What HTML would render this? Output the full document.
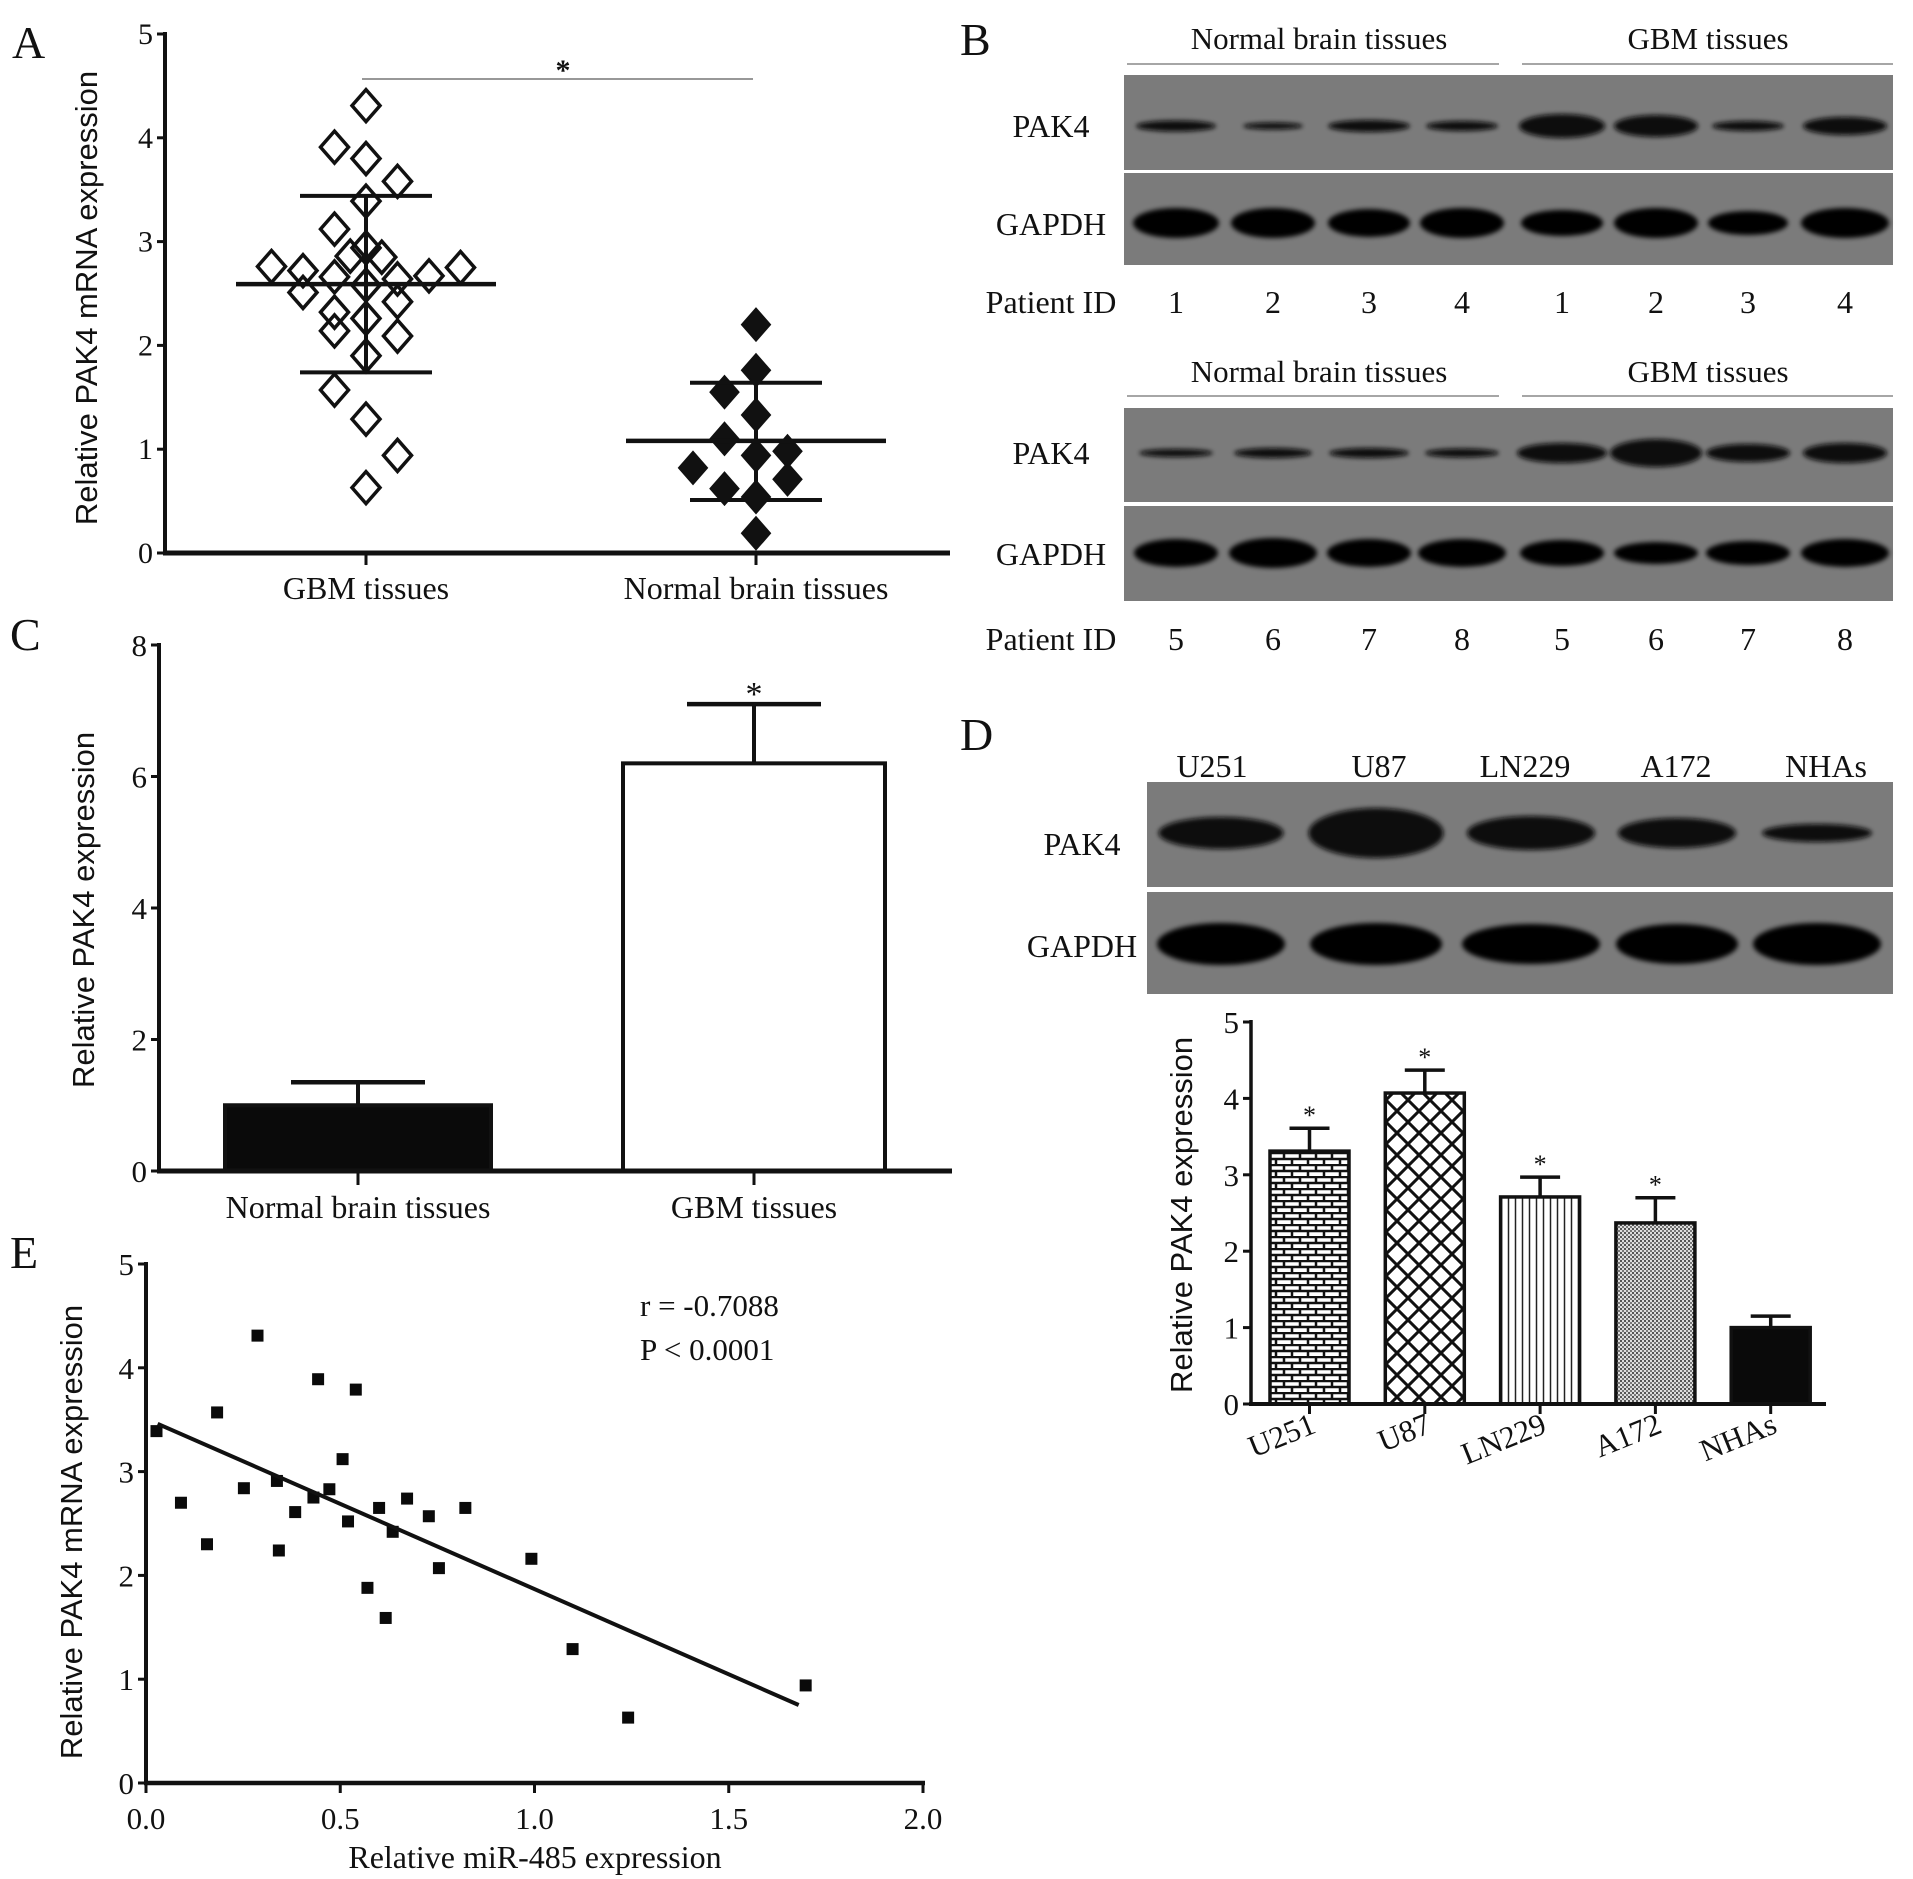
<!DOCTYPE html>
<html><head><meta charset="utf-8"><style>
html,body{margin:0;padding:0;background:#fff}
svg{display:block}
text{font-family:"Liberation Serif",serif;fill:#111}
.sans{font-family:"Liberation Sans",sans-serif}
</style></head><body>
<svg id="fig" width="1913" height="1879" viewBox="0 0 1913 1879" xmlns="http://www.w3.org/2000/svg">
<defs>
<filter id="blur" x="-30%" y="-60%" width="160%" height="220%"><feGaussianBlur stdDeviation="2.5"/></filter>
<pattern id="brick" width="16" height="12" patternUnits="userSpaceOnUse"><rect width="16" height="12" fill="#fff"/><path d="M0 1H16M0 7H16M4 1V7M12 7V12" stroke="#111" stroke-width="2.5"/></pattern>
<pattern id="cross" width="22" height="22" patternUnits="userSpaceOnUse"><rect width="22" height="22" fill="#fff"/><path d="M0 0L22 22M22 0L0 22" stroke="#111" stroke-width="3"/></pattern>
<pattern id="vlines" width="7" height="10" patternUnits="userSpaceOnUse"><rect width="7" height="10" fill="#fff"/><path d="M3.5 0V10" stroke="#222" stroke-width="1.5"/></pattern>
<pattern id="dots" width="4" height="4" patternUnits="userSpaceOnUse"><rect width="4" height="4" fill="#ddd"/><rect width="2" height="2" fill="#555"/><rect x="2" y="2" width="2" height="2" fill="#777"/></pattern>
</defs>
<g id="A"></g>
<g id="B"></g>
<g id="C"></g>
<g id="D"></g>
<g id="E"></g>
</svg>
<script>
// ---------- Panel A data ----------
const aCategories = ["GBM tissues", "Normal brain tissues"];
const aGbmValues = [4.31,3.91,3.80,3.58,3.39,3.12,2.94,2.86,2.85,2.76,2.72,2.75,2.66,2.64,2.67,2.58,2.51,2.42,2.32,2.26,2.14,2.09,1.90,1.57,1.29,0.94,0.63];
const aGbmColumn = [0,-1,0,1,0,-1,0,-0.5,0.5,-3,-2,3,-1,1,2,0,-2,1,-1,0,-1,1,0,-1,0,1,0];
const aNormalValues = [2.20,1.76,1.55,1.33,1.10,0.98,0.94,0.82,0.71,0.62,0.54,0.19];
const aNormalColumn = [0,0,-1,0,-1,1,0,-2,1,-1,0,0];
const aMeans = [2.59, 1.08];
const aSdHigh = [3.44, 1.64];
const aSdLow = [1.74, 0.51];
const aTicks = [0,1,2,3,4,5];
// ---------- Panel C data ----------
const cCategories = ["Normal brain tissues", "GBM tissues"];
const cValues = [1.0, 6.2];
const cErrors = [1.35, 7.1];
const cTicks = [0,2,4,6,8];
// ---------- Panel D data ----------
const dCategories = ["U251","U87","LN229","A172","NHAs"];
const dValues = [3.31, 4.07, 2.71, 2.37, 1.0];
const dErrors = [3.61, 4.37, 2.97, 2.70, 1.15];
const dSig = [true,true,true,true,false];
const dTicks = [0,1,2,3,4,5];
// ---------- Panel E data ----------
const eX = [0.027,0.09,0.157,0.183,0.252,0.287,0.337,0.342,0.384,0.431,0.443,0.472,0.506,0.52,0.54,0.57,0.60,0.617,0.635,0.672,0.728,0.754,0.822,0.992,1.098,1.241,1.698];
const eY = [3.39,2.70,2.30,3.57,2.84,4.31,2.91,2.24,2.61,2.75,3.89,2.83,3.12,2.52,3.79,1.88,2.65,1.59,2.42,2.74,2.57,2.07,2.65,2.16,1.29,0.63,0.94];
const eFit = [3.51, -1.642];
const eFitRange = [0.03, 1.68];
const eXTicks = ["0.0","0.5","1.0","1.5","2.0"];
const eYTicks = [0,1,2,3,4,5];

const NS="http://www.w3.org/2000/svg";
function el(parent, tag, attrs, txt){const e=document.createElementNS(NS,tag);for(const k in attrs)e.setAttribute(k,attrs[k]);if(txt!==undefined)e.textContent=txt;parent.appendChild(e);return e;}
function line(p,x1,y1,x2,y2,w,c){return el(p,'line',{x1,y1,x2,y2,stroke:c||'#111','stroke-width':w||4});}

// ===== Panel A =====
(function(){
const g=document.getElementById('A');
const x0=165,y0=553,pu=103.8,xr=950;
const y=v=>y0-v*pu;
const cx=[366,756], step=31.5;
let t=el(g,'text',{x:12,y:58,'font-size':46});t.textContent='A';

line(g,x0,y(5)-2,x0,y0+2,4);line(g,x0-2,y0,xr,y0,5);
aTicks.forEach(v=>{line(g,x0-8,y(v),x0,y(v),3);
 const tt=el(g,'text',{x:x0-12,y:y(v)+10,'font-size':30,'text-anchor':'end'},v);
 });
aCategories.forEach((c,i)=>{line(g,cx[i],y0,cx[i],y0+12,3);
 const tt=el(g,'text',{x:cx[i],y:599,'font-size':32,'text-anchor':'middle'},c);
 });
const yt=el(g,'text',{class:'sans',x:0,y:0,'font-size':31,'text-anchor':'middle',transform:'translate(97,298) rotate(-90)'},'Relative PAK4 mRNA expression');

line(g,362,79,753,79,1.5,'#777');
el(g,'text',{x:563,y:80,'font-size':30,'text-anchor':'middle','font-weight':'bold'},'*');
function diamond(v,col,x,filled){const X=x+col*step,Y=y(v);
 const d=el(g,'path',{d:`M${X} ${Y-16}L${X+14} ${Y}L${X} ${Y+16}L${X-14} ${Y}Z`,fill:filled?'#111':'none',stroke:'#111','stroke-width':filled?2:3.5});
 }
aGbmValues.forEach((v,i)=>diamond(v,aGbmColumn[i],cx[0],false));
aNormalValues.forEach((v,i)=>diamond(v,aNormalColumn[i],cx[1],true));
[0,1].forEach(i=>{line(g,cx[i],y(aSdHigh[i]),cx[i],y(aSdLow[i]),4);
 const m=line(g,cx[i]-130,y(aMeans[i]),cx[i]+130,y(aMeans[i]),4.5);
 
 line(g,cx[i]-66,y(aSdHigh[i]),cx[i]+66,y(aSdHigh[i]),4);
 line(g,cx[i]-66,y(aSdLow[i]),cx[i]+66,y(aSdLow[i]),4);});
})();

// ===== Panel B (western blots) =====
(function(){
const g=document.getElementById('B');
const lanes=[1176,1273,1369,1462,1562,1656,1748,1845];
let t=el(g,'text',{x:960,y:55,'font-size':46},'B');

const blocks=[
 {hy:39,ly:64,pak:[75,170],gap:[173,265],pid:302,ids:['1','2','3','4','1','2','3','4'],
  pk:[[80,11],[60,7],[82,12],[72,10],[86,24],[84,22],[72,10],[84,18]],gp:[[86,30],[84,30],[82,28],[84,30],[82,26],[84,30],[80,24],[88,30]],pkY:126,gpY:223},
 {hy:372,ly:396,pak:[408,502],gap:[506,601],pid:639,ids:['5','6','7','8','5','6','7','8'],
  pk:[[74,8],[78,10],[80,10],[74,9],[90,20],[92,28],[84,18],[84,20]],gp:[[84,28],[88,30],[84,28],[88,28],[84,26],[84,22],[84,24],[88,28]],pkY:453,gpY:553}];
blocks.forEach((b,bi)=>{
 let h=el(g,'text',{x:1319,y:b.hy+10,'font-size':31,'text-anchor':'middle'},'Normal brain tissues');
 
 h=el(g,'text',{x:1708,y:b.hy+10,'font-size':31,'text-anchor':'middle'},'GBM tissues');
 
 line(g,1127,b.ly,1499,b.ly,1.5,'#888');line(g,1522,b.ly,1893,b.ly,1.5,'#888');
 let r=el(g,'rect',{x:1124,y:b.pak[0],width:769,height:b.pak[1]-b.pak[0],fill:'#7b7b7b'});
 
 r=el(g,'rect',{x:1124,y:b.gap[0],width:769,height:b.gap[1]-b.gap[0],fill:'#7b7b7b'});
 
 el(g,'text',{x:1051,y:b.pkY+11,'font-size':32,'text-anchor':'middle'},'PAK4');
 el(g,'text',{x:1051,y:b.gpY+12,'font-size':32,'text-anchor':'middle'},'GAPDH');
 el(g,'text',{x:1051,y:b.pid+11,'font-size':32,'text-anchor':'middle'},'Patient ID');
 lanes.forEach((x,i)=>{
  const e1=el(g,'ellipse',{cx:x,cy:b.pkY,rx:b.pk[i][0]/2,ry:b.pk[i][1]/2,fill:'#080808',filter:'url(#blur)'});
  
  const e2=el(g,'ellipse',{cx:x,cy:b.gpY,rx:b.gp[i][0]/2,ry:b.gp[i][1]/2,fill:'#060606',filter:'url(#blur)'});
  
  el(g,'text',{x:x,y:b.pid+11,'font-size':32,'text-anchor':'middle'},b.ids[i]);
 });
});
})();

// ===== Panel C =====
(function(){
const g=document.getElementById('C');
const x0=159,y0=1171,pu=65.75,xr=952;
const y=v=>y0-v*pu;
const bx=[[225,491],[623,885]], cxs=[358,754];
let t=el(g,'text',{x:10,y:650,'font-size':46},'C');

cValues.forEach((v,i)=>{
 const cx=(bx[i][0]+bx[i][1])/2;
 line(g,cx,y(v),cx,y(cErrors[i]),4);
 line(g,cx-67,y(cErrors[i]),cx+67,y(cErrors[i]),4.5);
 const r=el(g,'rect',{x:bx[i][0],y:y(v),width:bx[i][1]-bx[i][0],height:v*pu,fill:i===0?'#0a0a0a':'#fff',stroke:'#111','stroke-width':4});
 
});
el(g,'text',{x:754,y:705,'font-size':34,'text-anchor':'middle'},'*');
line(g,x0,y(8)-2,x0,y0+2,4);line(g,x0-2,y0,xr,y0,5);
cTicks.forEach(v=>{line(g,x0-8,y(v),x0,y(v),3);el(g,'text',{x:x0-12,y:y(v)+11,'font-size':31,'text-anchor':'end'},v);});
cCategories.forEach((c,i)=>{line(g,cxs[i],y0,cxs[i],y0+14,3);
 const tt=el(g,'text',{x:cxs[i],y:1218,'font-size':32,'text-anchor':'middle'},c);
 });
const yt=el(g,'text',{class:'sans',x:0,y:0,'font-size':31,'text-anchor':'middle',transform:'translate(94,910) rotate(-90)'},'Relative PAK4 expression');

})();

// ===== Panel D =====
(function(){
const g=document.getElementById('D');
let t=el(g,'text',{x:960,y:750,'font-size':46},'D');

const lblX=[1212,1379,1525,1676,1826], bandX=[1221,1376,1531,1677,1817];
const pk=[[125,32],[135,50],[128,34],[118,30],[110,18]], gp=[[128,42],[132,42],[138,40],[122,40],[128,42]];
let r=el(g,'rect',{x:1147,y:782,width:746,height:105,fill:'#7b7b7b'});

r=el(g,'rect',{x:1147,y:892,width:746,height:102,fill:'#7b7b7b'});

el(g,'text',{x:1082,y:855,'font-size':32,'text-anchor':'middle'},'PAK4');
el(g,'text',{x:1082,y:957,'font-size':32,'text-anchor':'middle'},'GAPDH');
dCategories.forEach((c,i)=>{
 const tt=el(g,'text',{x:lblX[i],y:777,'font-size':32,'text-anchor':'middle'},c);
 
 const e1=el(g,'ellipse',{cx:bandX[i],cy:833,rx:pk[i][0]/2,ry:pk[i][1]/2,fill:'#080808',filter:'url(#blur)'});
 
 const e2=el(g,'ellipse',{cx:bandX[i],cy:944,rx:gp[i][0]/2,ry:gp[i][1]/2,fill:'#060606',filter:'url(#blur)'});
 
});
const x0=1251,y0=1404,pu=76.4,xr=1826;
const y=v=>y0-v*pu;
const fills=['url(#brick)','url(#cross)','url(#vlines)','url(#dots)','#0a0a0a'];
const bw=79, first=1270, step=115.3;
dValues.forEach((v,i)=>{
 const bx=first+i*step, cx=bx+bw/2;
 line(g,cx,y(v),cx,y(dErrors[i]),3.5);
 line(g,cx-20,y(dErrors[i]),cx+20,y(dErrors[i]),3.5);
 const b=el(g,'rect',{x:bx,y:y(v),width:bw,height:v*pu,fill:fills[i],stroke:'#111','stroke-width':3.5});
 
 if(dSig[i]) el(g,'text',{x:cx,y:y(dErrors[i])-4,'font-size':26,'text-anchor':'middle'},'*');
 line(g,cx,y0,cx,y0+10,3);
 const tl=el(g,'text',{x:cx+8,y:y0+28,'font-size':31,'text-anchor':'end',transform:`rotate(-22 ${cx+8} ${y0+28})`},dCategories[i]);
 
});
line(g,x0,y(5)-2,x0,y0+2,3.5);line(g,x0-2,y0,xr,y0,4);
dTicks.forEach(v=>{line(g,x0-8,y(v),x0,y(v),3);el(g,'text',{x:x0-12,y:y(v)+11,'font-size':31,'text-anchor':'end'},v);});
const yt=el(g,'text',{class:'sans',x:0,y:0,'font-size':31,'text-anchor':'middle',transform:'translate(1192,1215) rotate(-90)'},'Relative PAK4 expression');

})();

// ===== Panel E =====
(function(){
const g=document.getElementById('E');
const x0=146,y0=1783,pu=103.8,xu=388.5,xr=923;
const X=v=>x0+v*xu, Y=v=>y0-v*pu;
let t=el(g,'text',{x:10,y:1268,'font-size':46},'E');

line(g,x0,Y(5)-2,x0,y0+2,4);line(g,x0-2,y0,xr+2,y0,4.5);
eYTicks.forEach(v=>{line(g,x0-8,Y(v),x0,Y(v),3);el(g,'text',{x:x0-12,y:Y(v)+11,'font-size':31,'text-anchor':'end'},v);});
eXTicks.forEach(s=>{const v=parseFloat(s);line(g,X(v),y0,X(v),y0+10,3);
 const tt=el(g,'text',{x:X(v),y:1829,'font-size':31,'text-anchor':'middle'},s);
 });
eX.forEach((v,i)=>{const p=el(g,'rect',{x:X(v)-6,y:Y(eY[i])-6,width:12,height:12,fill:'#0a0a0a'});
 });
const fl=line(g,X(eFitRange[0]),Y(eFit[0]+eFit[1]*eFitRange[0]),X(eFitRange[1]),Y(eFit[0]+eFit[1]*eFitRange[1]),4);

el(g,'text',{x:640,y:1316,'font-size':31},'r = -0.7088');
el(g,'text',{x:640,y:1360,'font-size':31},'P < 0.0001');
const xt=el(g,'text',{x:535,y:1868,'font-size':32,'text-anchor':'middle'},'Relative miR-485 expression');

const yt=el(g,'text',{class:'sans',x:0,y:0,'font-size':31,'text-anchor':'middle',transform:'translate(82,1532) rotate(-90)'},'Relative PAK4 mRNA expression');

})();
</script>
</body></html>
